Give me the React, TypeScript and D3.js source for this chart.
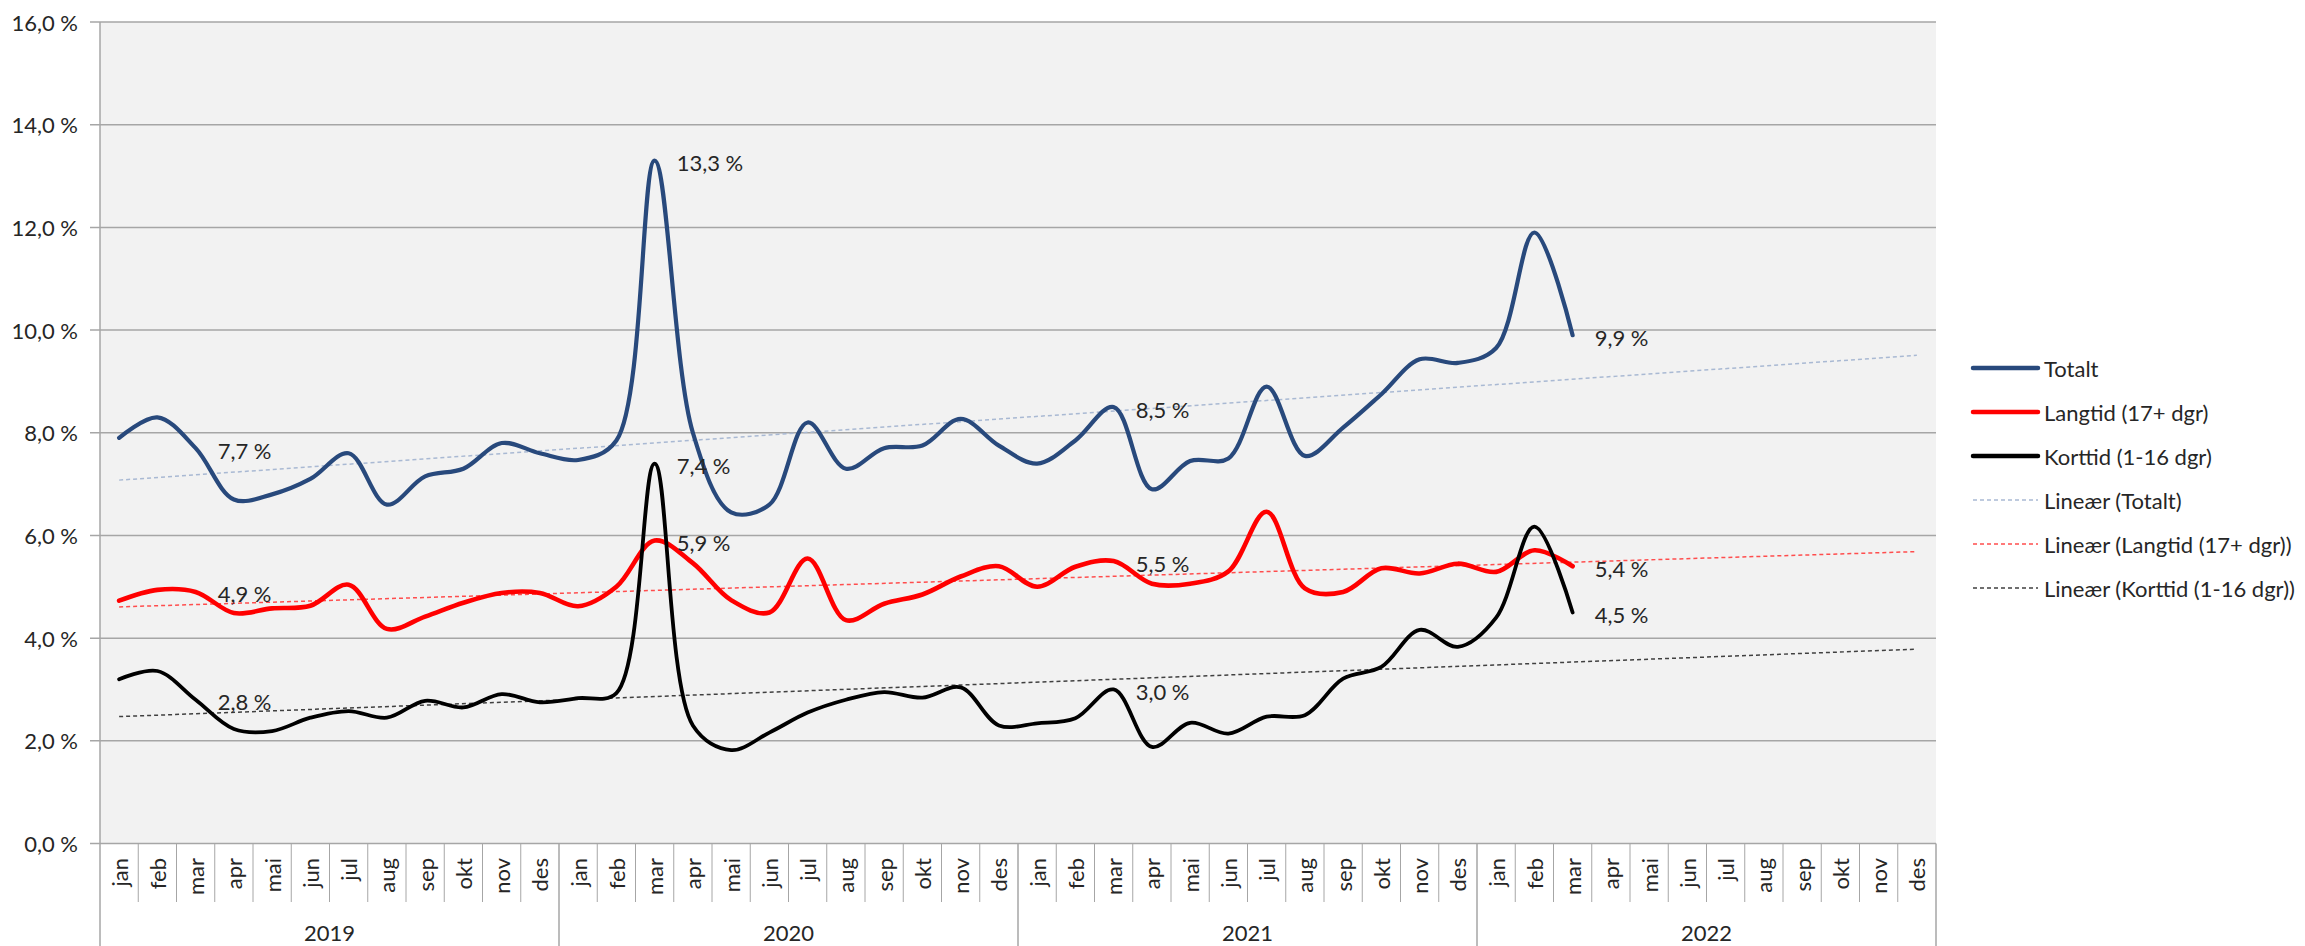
import React, { useEffect, useRef } from "react";
import * as d3 from "d3";

const monthNames = ["jan", "feb", "mar", "apr", "mai", "jun", "jul", "aug", "sep", "okt", "nov", "des"];
const years = ["2019", "2020", "2021", "2022"];
const yTicks = [0, 2, 4, 6, 8, 10, 12, 14, 16];

// values, jan 2019 .. mar 2022
const totalt = [
  7.9, 8.3, 7.7, 6.7, 6.8, 7.1, 7.6, 6.6, 7.15, 7.3, 7.8, 7.6,
  7.47, 7.85, 13.3, 8.0, 6.45, 6.6, 8.2, 7.3, 7.7, 7.75, 8.27, 7.75,
  7.4, 7.85, 8.5, 6.9, 7.45, 7.5, 8.9, 7.55, 8.1, 8.75, 9.43, 9.36,
  9.65, 11.9, 9.9,
];
const langtid = [
  4.73, 4.94, 4.9, 4.49, 4.58, 4.63, 5.04, 4.18, 4.42, 4.69, 4.88, 4.88,
  4.62, 5.0, 5.9, 5.46, 4.74, 4.5, 5.55, 4.35, 4.67, 4.85, 5.2, 5.4,
  5.0, 5.39, 5.5, 5.06, 5.06, 5.3, 6.46, 4.97, 4.9, 5.36, 5.26, 5.45,
  5.29, 5.71, 5.4,
];
const korttid = [
  3.2, 3.36, 2.8, 2.23, 2.19, 2.45, 2.58, 2.45, 2.78, 2.65, 2.91, 2.75,
  2.83, 2.93, 7.4, 2.3, 1.82, 2.16, 2.55, 2.8, 2.95, 2.84, 3.04, 2.3,
  2.34, 2.44, 3.0, 1.88, 2.35, 2.14, 2.47, 2.5, 3.21, 3.44, 4.16, 3.83,
  4.4, 6.17, 4.5,
];
// months that carry a data label (every march)
const labelIdx = [2, 14, 26, 38];

const series = [
  { name: "Totalt", values: totalt, color: "#28497c", width: 4.2, trendColor: "#a9b9d3", trendName: "Lineær (Totalt)" },
  { name: "Langtid (17+ dgr)", values: langtid, color: "#ff0000", width: 4.6, trendColor: "#ff4d4d", trendName: "Lineær (Langtid (17+ dgr))" },
  { name: "Korttid (1-16 dgr)", values: korttid, color: "#000000", width: 3.8, trendColor: "#404040", trendName: "Lineær (Korttid (1-16 dgr))" },
];

const W = 2305;
const H = 946;
const FONT = "Lato, 'Open Sans', sans-serif";
const FS = 22;

const fmt = (v: number) => v.toFixed(1).replace(".", ",") + " %";

const App: React.FC = () => {
  const ref = useRef<SVGSVGElement | null>(null);

  useEffect(() => {
    document.body.style.margin = "0";
    if (!ref.current) return;
    const svg = d3.select(ref.current);
    svg.selectAll("*").remove();

    const left = 100, right = 1936, top = 22, bottom = 843.5;
    const keys: string[] = [];
    years.forEach(y => monthNames.forEach(m => keys.push(`${y}-${m}`)));

    const x = d3.scaleBand<string>().domain(keys).range([left, right]).padding(0);
    const bw = x.bandwidth();
    const cx = (i: number) => (x(keys[i]) as number) + bw / 2;
    const y = d3.scaleLinear().domain([0, 16]).range([bottom, top]);

    svg.append("rect").attr("width", W).attr("height", H).attr("fill", "#ffffff");
    svg.append("rect")
      .attr("x", left).attr("y", top)
      .attr("width", right - left).attr("height", bottom - top)
      .attr("fill", "#f2f2f2");

    // gridlines + y ticks
    yTicks.forEach(t => {
      svg.append("line")
        .attr("x1", left - 10).attr("x2", right)
        .attr("y1", y(t)).attr("y2", y(t))
        .attr("stroke", "#a6a6a6").attr("stroke-width", 1.5);
      svg.append("text")
        .attr("x", 78).attr("y", y(t))
        .attr("text-anchor", "end").attr("dominant-baseline", "central")
        .attr("font-family", FONT).attr("font-size", FS).attr("fill", "#262626")
        .text(fmt(t));
    });

    // y axis line
    svg.append("line")
      .attr("x1", left).attr("x2", left).attr("y1", top).attr("y2", H)
      .attr("stroke", "#a6a6a6").attr("stroke-width", 1.5);

    // month separators and labels
    keys.forEach((k, i) => {
      const x0 = x(k) as number;
      const isYear = i % 12 === 0;
      if (i > 0) {
        svg.append("line")
          .attr("x1", x0).attr("x2", x0)
          .attr("y1", bottom).attr("y2", isYear ? H : 902)
          .attr("stroke", "#a6a6a6").attr("stroke-width", isYear ? 1.5 : 1);
      }
      svg.append("text")
        .attr("transform", `translate(${cx(i)},858) rotate(-90)`)
        .attr("text-anchor", "end").attr("dominant-baseline", "central")
        .attr("font-family", FONT).attr("font-size", FS).attr("fill", "#262626")
        .text(monthNames[i % 12]);
    });
    svg.append("line")
      .attr("x1", right).attr("x2", right).attr("y1", bottom).attr("y2", H)
      .attr("stroke", "#a6a6a6").attr("stroke-width", 1.5);

    years.forEach((yr, j) => {
      const x0 = x(keys[j * 12]) as number;
      svg.append("text")
        .attr("x", x0 + bw * 6).attr("y", 932)
        .attr("text-anchor", "middle").attr("dominant-baseline", "central")
        .attr("font-family", FONT).attr("font-size", FS).attr("fill", "#262626")
        .text(yr);
    });

    // linear trend lines over the full 48 months
    series.forEach(s => {
      const pts = s.values.map((v, i) => [i, v] as [number, number]);
      const mx = d3.mean(pts, p => p[0]) as number;
      const my = d3.mean(pts, p => p[1]) as number;
      const sxy = d3.sum(pts, p => (p[0] - mx) * (p[1] - my));
      const sxx = d3.sum(pts, p => (p[0] - mx) ** 2);
      const slope = sxy / sxx;
      const icpt = my - slope * mx;
      svg.append("line")
        .attr("x1", cx(0)).attr("y1", y(icpt))
        .attr("x2", cx(keys.length - 1)).attr("y2", y(icpt + slope * (keys.length - 1)))
        .attr("stroke", s.trendColor).attr("stroke-width", 1.5)
        .attr("stroke-dasharray", "4,3");
    });

    const line = d3.line<number>()
      .x((_, i) => cx(i))
      .y(d => y(d))
      .curve(d3.curveCatmullRom.alpha(0.5));

    series.forEach(s => {
      svg.append("path")
        .attr("d", line(s.values) || "")
        .attr("fill", "none")
        .attr("stroke", s.color)
        .attr("stroke-width", s.width)
        .attr("stroke-linecap", "round")
        .attr("stroke-linejoin", "round");
    });

    // data labels
    series.forEach(s => {
      labelIdx.forEach(i => {
        svg.append("text")
          .attr("x", cx(i) + 22).attr("y", y(s.values[i]) + 2)
          .attr("dominant-baseline", "central")
          .attr("font-family", FONT).attr("font-size", FS).attr("fill", "#262626")
          .text(fmt(s.values[i]));
      });
    });

    // legend
    const lg = svg.append("g").attr("transform", "translate(1973,368)");
    const legendItems = [
      ...series.map(s => ({ label: s.name, color: s.color, w: 4.5, dash: null as string | null })),
      ...series.map(s => ({ label: s.trendName, color: s.trendColor, w: 1.5, dash: "4,3" as string | null })),
    ];
    legendItems.forEach((it, i) => {
      const row = lg.append("g").attr("transform", `translate(0,${i * 44})`);
      row.append("line")
        .attr("x1", 0).attr("x2", 65).attr("y1", 0).attr("y2", 0)
        .attr("stroke", it.color).attr("stroke-width", it.w)
        .attr("stroke-linecap", it.dash ? "butt" : "round")
        .attr("stroke-dasharray", it.dash || null);
      row.append("text")
        .attr("x", 71).attr("y", 0)
        .attr("dominant-baseline", "central")
        .attr("font-family", FONT).attr("font-size", FS).attr("fill", "#262626")
        .text(it.label);
    });
  }, []);

  return <svg ref={ref} width={W} height={H} style={{ display: "block" }} />;
};

export default App;
